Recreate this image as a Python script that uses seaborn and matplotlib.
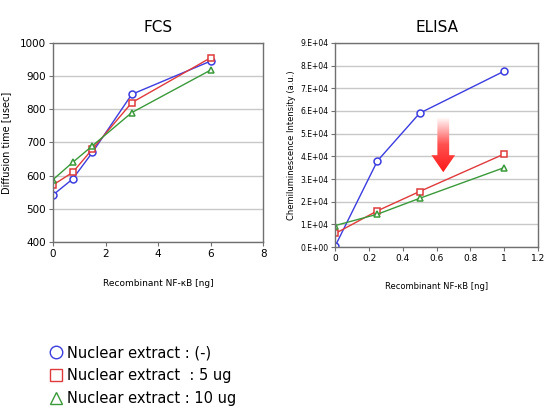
import numpy as np
import pandas as pd
import seaborn as sns
import matplotlib.pyplot as plt
from matplotlib.patches import Polygon
from matplotlib.lines import Line2D
from matplotlib.ticker import FuncFormatter

# FCS panel
fcs_x = [0, 0.75, 1.5, 3, 6]
fcs_none = [542, 590, 670, 845, 945]
fcs_5ug = [572, 610, 680, 820, 955]
fcs_10ug = [588, 640, 690, 790, 918]

# ELISA panel
elisa_x = [0, 0.25, 0.5, 1]
elisa_none = [500, 38000, 59000, 77500]
elisa_5ug = [6000, 16000, 24500, 41000]
elisa_10ug = [9500, 14500, 21500, 35000]

labels = ["Nuclear extract : (-)", "Nuclear extract  : 5 ug", "Nuclear extract : 10 ug"]
colors = ["#3c3ce0", "#e03a3a", "#3a9a3a"]
markers = ["o", "s", "^"]

sns.set_theme(style="white")
plt.rcParams["font.family"] = ["DejaVu Sans"]
plt.rcParams["text.color"] = "black"

fig = plt.figure(figsize=(5.46, 4.16), dpi=100)
ax1 = fig.add_axes([0.097, 0.418, 0.385, 0.479])
ax2 = fig.add_axes([0.614, 0.406, 0.371, 0.491])


def draw(ax, x, series):
    for ys, lab, c, m in zip(series, labels, colors, markers):
        df = pd.DataFrame({"x": x, "y": ys})
        sns.lineplot(data=df, x="x", y="y", ax=ax, color=c, marker=m,
                     markersize=5, mfc="white", mec=c, mew=1.1, lw=1,
                     label=lab, legend=False)
    ax.grid(axis="y", color="#c8c8c8", lw=1)
    ax.set_axisbelow(True)
    for s in ax.spines.values():
        s.set_color("#707070")
        s.set_linewidth(1)
    ax.tick_params(axis="both", length=3, width=0.8, color="#707070",
                   direction="out", bottom=True, left=True, pad=2,
                   labelcolor="black")


draw(ax1, fcs_x, [fcs_none, fcs_5ug, fcs_10ug])
ax1.set_xlim(0, 8)
ax1.set_ylim(400, 1000)
ax1.set_xticks([0, 2, 4, 6, 8])
ax1.set_yticks(range(400, 1001, 100))
ax1.tick_params(labelsize=7.5)
ax1.set_title("FCS", fontsize=11, pad=8, color="black")
ax1.set_xlabel("Recombinant NF-\u03baB [ng]", fontsize=6.5, labelpad=14, color="black")
ax1.set_ylabel("Diffusion time [usec]", fontsize=7, labelpad=6, color="black")

draw(ax2, elisa_x, [elisa_none, elisa_5ug, elisa_10ug])
ax2.set_xlim(0, 1.2)
ax2.set_ylim(0, 90000)
xt = [0, 0.2, 0.4, 0.6, 0.8, 1, 1.2]
ax2.set_xticks(xt)
ax2.set_xticklabels(["0", "0.2", "0.4", "0.6", "0.8", "1", "1.2"])
ax2.set_yticks(np.arange(0, 90001, 10000))
ax2.yaxis.set_major_formatter(FuncFormatter(
    lambda v, p: "0.E+00" if v == 0 else f"{v / 1e4:.0f}.E+04"))
ax2.tick_params(axis="x", labelsize=6.5)
ax2.tick_params(axis="y", labelsize=5.5)
ax2.set_title("ELISA", fontsize=11, pad=8, color="black")
ax2.set_xlabel("Recombinant NF-\u03baB [ng]", fontsize=6, labelpad=14, color="black")
ax2.set_ylabel("Chemiluminescence Intensity (a.u.)", fontsize=6, labelpad=3, color="black")

# gradient arrow
cx = 0.64
arrow = Polygon([(cx - 0.035, 57000), (cx + 0.035, 57000), (cx + 0.035, 40500),
                 (cx + 0.07, 40500), (cx, 33000), (cx - 0.07, 40500),
                 (cx - 0.035, 40500)], closed=True, facecolor="none",
                edgecolor="none", transform=ax2.transData)
ax2.add_patch(arrow)
grad = np.linspace(0, 1, 256).reshape(-1, 1)
img = ax2.imshow(grad, cmap=sns.blend_palette(["#ff1a1a", "#ff5050", "#ffffff"],
                                               as_cmap=True),
                 extent=[cx - 0.08, cx + 0.08, 33000, 57000], aspect="auto",
                 origin="lower", zorder=3)
img.set_clip_path(arrow)
ax2.set_xlim(0, 1.2)
ax2.set_ylim(0, 90000)

handles = [Line2D([], [], ls="none", marker=m, ms=9, mfc="white", mec=c, mew=1)
           for m, c in zip(markers, colors)]
fig.legend(handles, labels, loc="upper left", bbox_to_anchor=(0.07, 0.195),
           frameon=False, fontsize=10.5, handletextpad=0.3, labelspacing=0.55,
           handlelength=1.0, borderpad=0.2)

fig.savefig("out.png", dpi=100)
